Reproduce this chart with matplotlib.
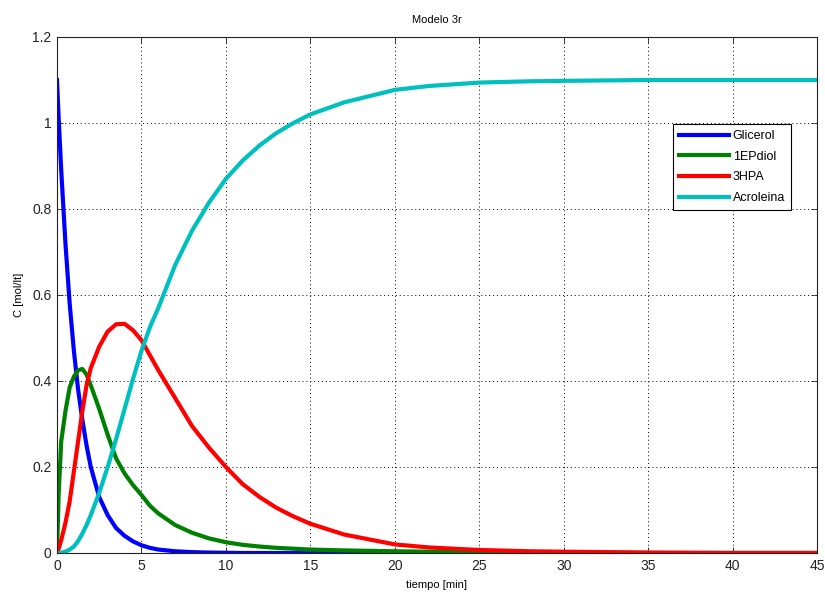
import matplotlib
matplotlib.use('Agg')
import matplotlib.pyplot as plt

# time grid [min] and concentrations [mol/lt]
tiempo = [0, 0.1, 0.25, 0.5, 0.75, 1, 1.25, 1.5, 1.75, 2, 2.5, 3, 3.5, 4, 4.5, 5,
          5.5, 6, 7, 8, 9, 10, 11, 12, 13, 14, 15, 17, 20, 22, 25, 28, 30, 35, 40, 45]

glicerol = [1.10, 1.01, 0.89, 0.72, 0.58, 0.47, 0.38, 0.31, 0.25, 0.20, 0.13, 0.088,
            0.058, 0.040, 0.027, 0.018, 0.012, 0.008, 0.004, 0.002, 0.001, 0.0005,
            0, 0, 0, 0, 0, 0, 0, 0, 0, 0, 0, 0, 0, 0]

epdiol = [0, 0.14, 0.26, 0.33, 0.385, 0.41, 0.425, 0.428, 0.415, 0.39, 0.335, 0.275,
          0.22, 0.185, 0.158, 0.135, 0.11, 0.092, 0.065, 0.047, 0.034, 0.025, 0.019,
          0.015, 0.012, 0.010, 0.008, 0.006, 0.004, 0.003, 0.002, 0.001, 0.001, 0, 0, 0]

hpa = [0, 0.01, 0.03, 0.07, 0.12, 0.19, 0.26, 0.33, 0.39, 0.43, 0.48, 0.515, 0.532,
       0.533, 0.518, 0.495, 0.46, 0.425, 0.36, 0.295, 0.245, 0.2, 0.16, 0.13, 0.105,
       0.085, 0.068, 0.043, 0.02, 0.013, 0.007, 0.004, 0.003, 0.001, 0, 0]

acroleina = [0, 0, 0.001, 0.003, 0.008, 0.015, 0.028, 0.045, 0.065, 0.088, 0.14, 0.2,
             0.265, 0.335, 0.405, 0.47, 0.525, 0.57, 0.67, 0.75, 0.815, 0.87, 0.913,
             0.948, 0.977, 1.0, 1.02, 1.048, 1.077, 1.086, 1.094, 1.097, 1.098, 1.1,
             1.1, 1.1]

plt.rcParams['font.family'] = ['Liberation Sans', 'DejaVu Sans']

fig = plt.figure(figsize=(8.25, 5.93), dpi=100)
ax = fig.add_axes([57 / 825, 1 - 553 / 593, 760 / 825, 516 / 593])

ax.plot(tiempo, glicerol, color=(0, 0, 1), lw=3, label='Glicerol')
ax.plot(tiempo, epdiol, color=(0, 0.5, 0), lw=3, label='1EPdiol')
ax.plot(tiempo, hpa, color=(1, 0, 0), lw=3, label='3HPA')
ax.plot(tiempo, acroleina, color=(0, 0.75, 0.75), lw=3, label='Acroleina')

ax.set_xlim(0, 45)
ax.set_ylim(0, 1.2)
ax.set_xticks(range(0, 46, 5))
ax.set_yticks([0, 0.2, 0.4, 0.6, 0.8, 1.0, 1.2])
ax.set_yticklabels(['0', '0.2', '0.4', '0.6', '0.8', '1', '1.2'])
ax.tick_params(direction='in', top=True, right=True, labelsize=10, length=4,
               width=0.6, colors='#222222', pad=4)
ax.grid(True, linestyle=(0, (1, 3)), color='black', linewidth=0.7)
for s in ax.spines.values():
    s.set_linewidth(0.8)
    s.set_color('#222222')

ax.set_title('Modelo 3r', fontsize=8, pad=10)
ax.set_xlabel('tiempo [min]', fontsize=8, labelpad=5)
ax.set_ylabel('C [mol/lt]', fontsize=8, labelpad=6)

leg = ax.legend(loc='upper left', bbox_to_anchor=(0.81, 0.832), borderaxespad=0,
                fontsize=9, fancybox=False, framealpha=1, edgecolor='black',
                handlelength=4.0, handletextpad=0.3, labelspacing=0.7,
                borderpad=0.5)
leg.get_frame().set_linewidth(0.8)

fig.savefig('out.png', dpi=100)
